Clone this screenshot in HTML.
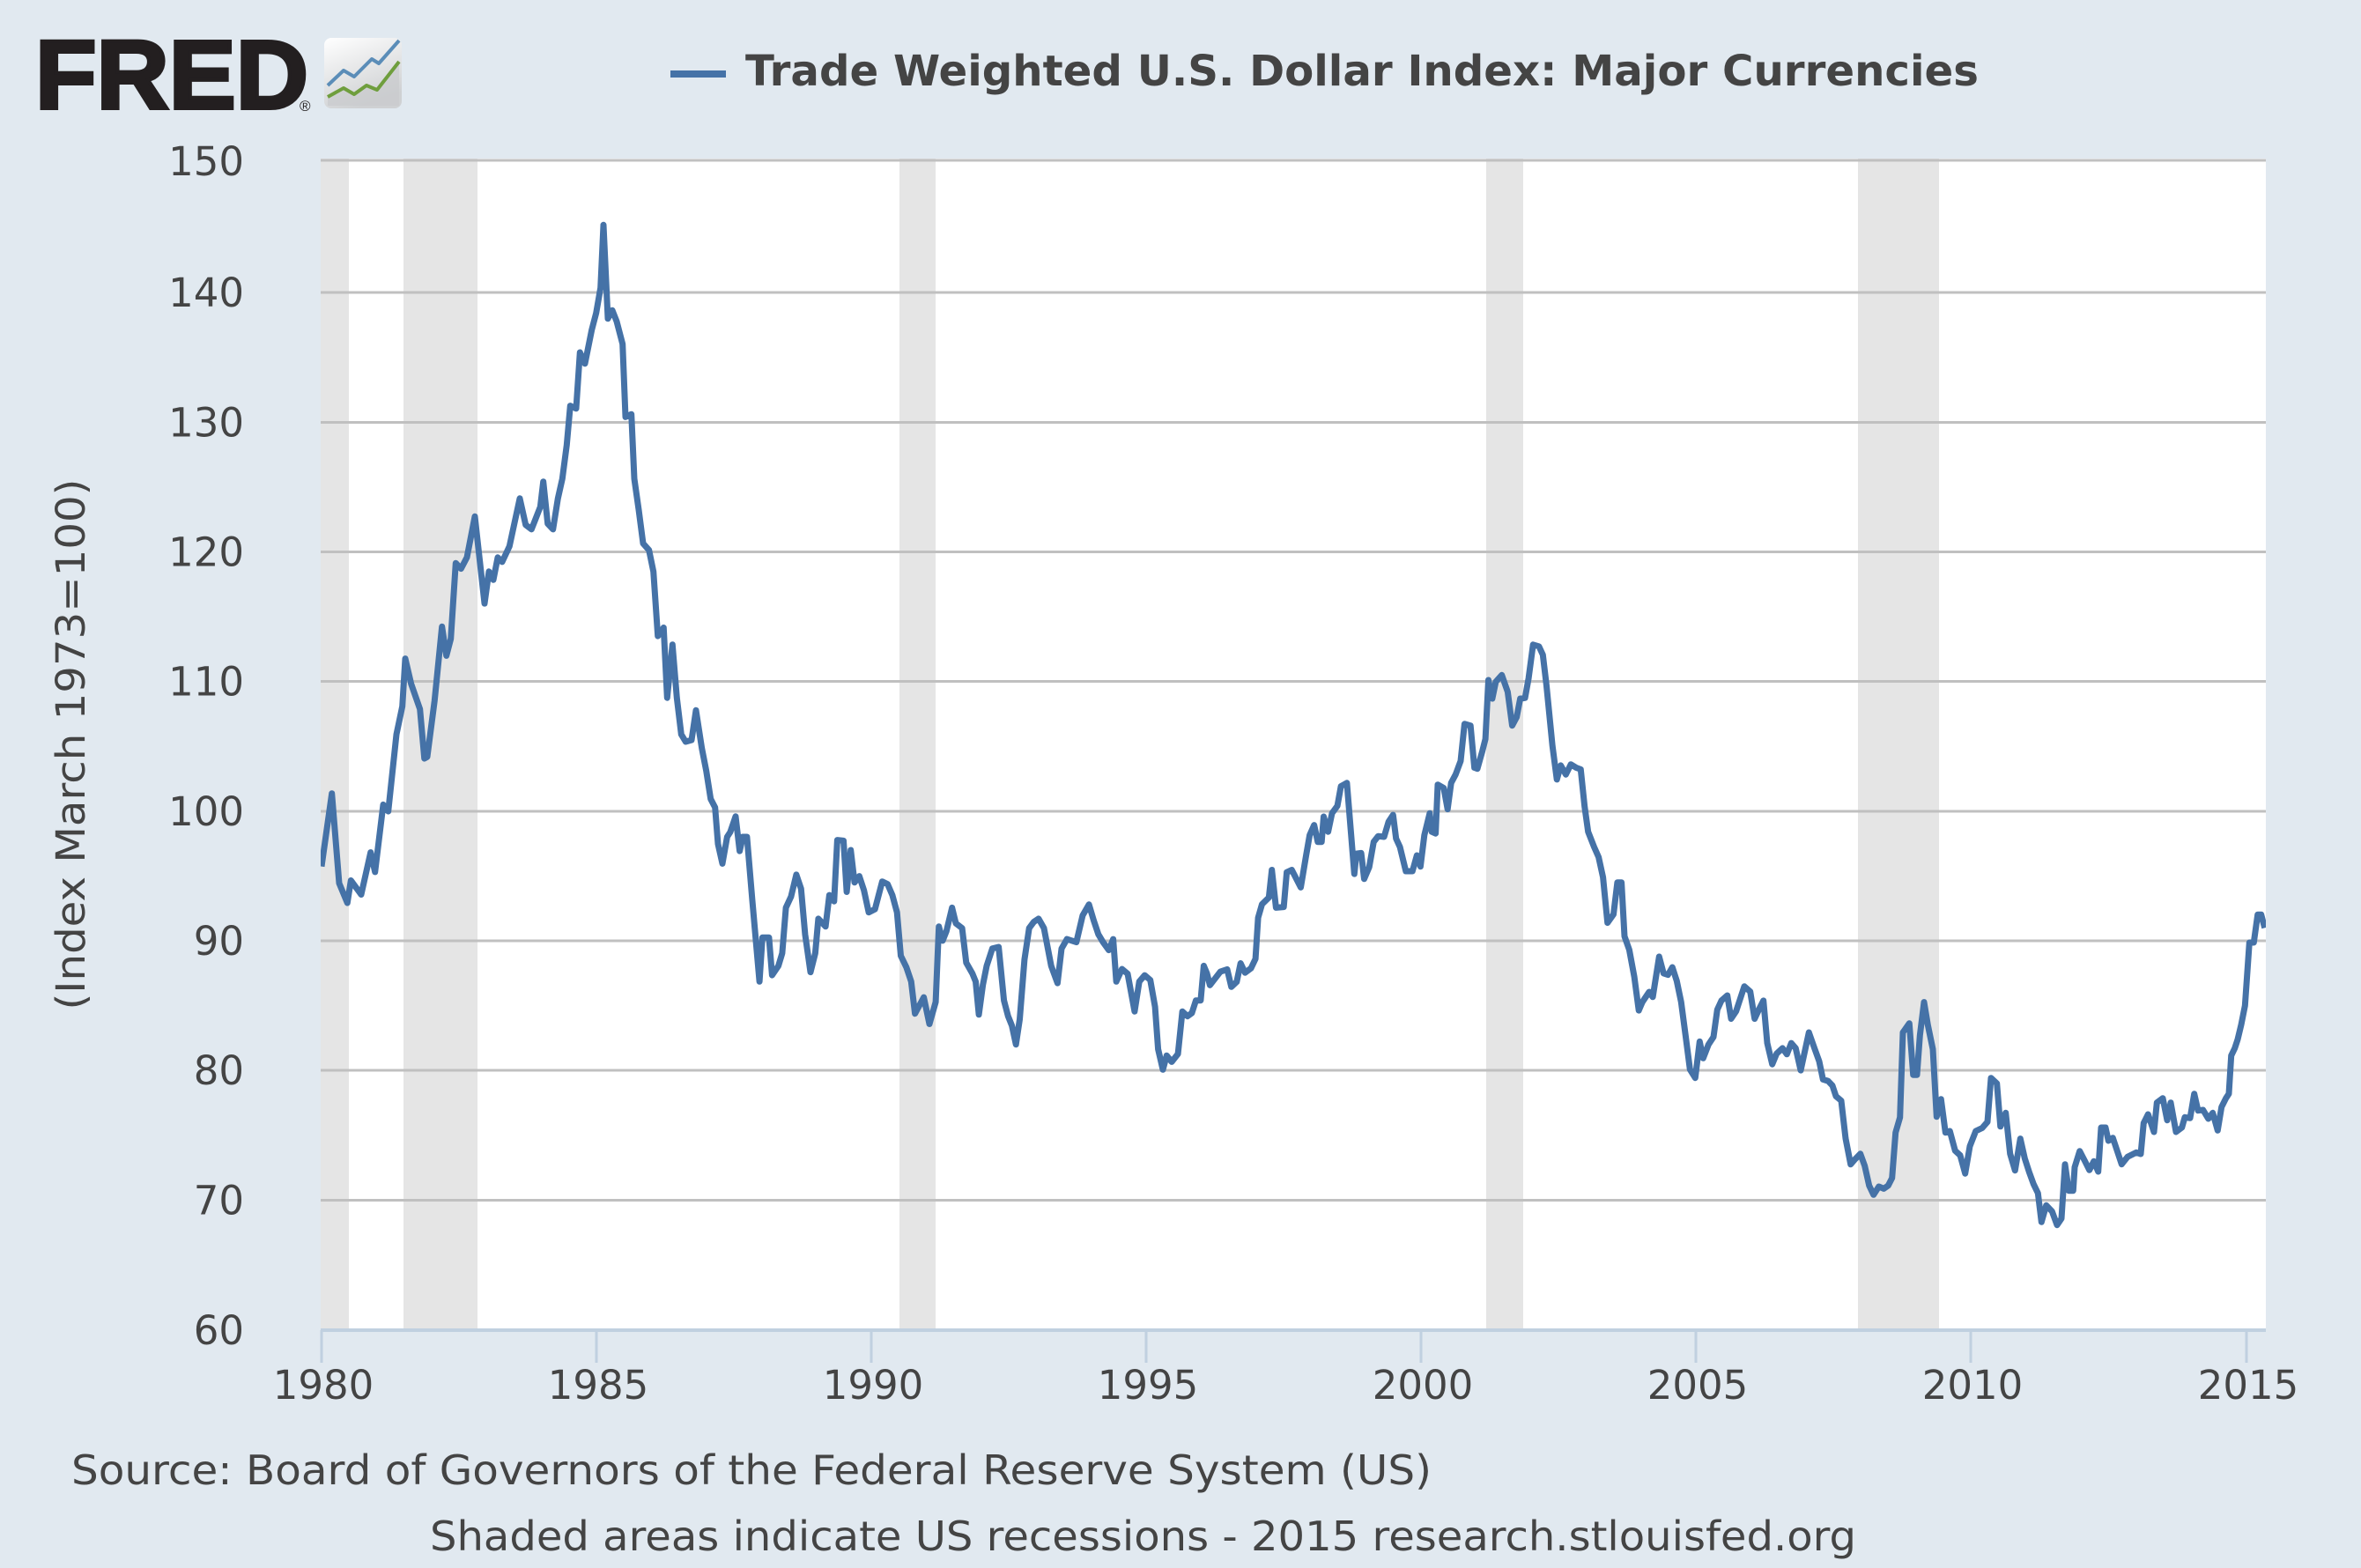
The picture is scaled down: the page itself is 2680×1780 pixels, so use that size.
<!DOCTYPE html>
<html>
<head>
<meta charset="utf-8">
<style>
  html,body{margin:0;padding:0;background:#e1e9f0;}
  body{width:2680px;height:1780px;overflow:hidden;}
  svg{display:block;}
  .tick{font-family:"DejaVu Sans","Liberation Sans",sans-serif;font-size:45px;fill:#444;}
  .foot{font-family:"DejaVu Sans","Liberation Sans",sans-serif;font-size:46px;fill:#444;}
</style>
</head>
<body>
<svg xmlns="http://www.w3.org/2000/svg" width="2680" height="1780" viewBox="0 0 2680 1780">
  <defs>
    <clipPath id="plotclip"><rect x="364" y="180" width="2208" height="1330"/></clipPath>
    <linearGradient id="icongrad" x1="0" y1="0" x2="0.4" y2="1">
      <stop offset="0" stop-color="#ffffff"/>
      <stop offset="1" stop-color="#cfd1d3"/>
    </linearGradient>
  </defs>

  <!-- background -->
  <rect x="0" y="0" width="2680" height="1780" fill="#e1e9f0"/>

  <!-- FRED logo -->
  <text x="40" y="123" font-family="Liberation Sans, Arial, sans-serif" font-weight="bold" font-size="110" fill="#231f20" stroke="#231f20" stroke-width="4" textLength="310" lengthAdjust="spacingAndGlyphs">FRED</text>
  <text x="340" y="126" font-family="Liberation Sans, sans-serif" font-size="17" fill="#231f20">®</text>
  <rect x="368" y="43" width="88" height="80" rx="8" ry="8" fill="url(#icongrad)"/>
  <polygon points="372,110 390,100 402,107 416,97 428,102 453,70 453,120 372,120" fill="#c9cbcd" opacity="0.7"/>
  <polyline points="372,97 390,80 402,87 422,67 430,72 453,46" fill="none" stroke="#5b8db8" stroke-width="4" stroke-linejoin="round"/>
  <polyline points="372,110 390,100 402,107 416,97 428,102 453,70" fill="none" stroke="#6f9e3d" stroke-width="4" stroke-linejoin="round"/>

  <!-- legend / title -->
  <rect x="761" y="80" width="63" height="8" fill="#4572a7"/>
  <text x="846" y="97" font-family="DejaVu Sans, Liberation Sans, sans-serif" font-weight="bold" font-size="48" fill="#444" textLength="1400" lengthAdjust="spacingAndGlyphs">Trade Weighted U.S. Dollar Index: Major Currencies</text>

  <!-- plot area -->
  <rect x="364" y="180" width="2208" height="1330" fill="#ffffff"/>

  <!-- recession bands -->
  <g fill="#e5e5e5">
    <rect x="364" y="180" width="32" height="1330"/>
    <rect x="458" y="180" width="84" height="1330"/>
    <rect x="1021" y="180" width="41" height="1330"/>
    <rect x="1687" y="180" width="42" height="1330"/>
    <rect x="2109" y="180" width="92" height="1330"/>
  </g>

  <!-- gridlines -->
  <g stroke="#c0c0c0" stroke-width="3">
    <line x1="364" y1="182" x2="2572" y2="182"/>
    <line x1="364" y1="332" x2="2572" y2="332"/>
    <line x1="364" y1="479.5" x2="2572" y2="479.5"/>
    <line x1="364" y1="626.5" x2="2572" y2="626.5"/>
    <line x1="364" y1="773.5" x2="2572" y2="773.5"/>
    <line x1="364" y1="921" x2="2572" y2="921"/>
    <line x1="364" y1="1068" x2="2572" y2="1068"/>
    <line x1="364" y1="1215" x2="2572" y2="1215"/>
    <line x1="364" y1="1362.5" x2="2572" y2="1362.5"/>
  </g>

  <!-- x axis line and ticks -->
  <line x1="364" y1="1510" x2="2572" y2="1510" stroke="#c0d0e0" stroke-width="4"/>
  <g stroke="#c0d0e0" stroke-width="3">
    <line x1="365" y1="1510" x2="365" y2="1547"/>
    <line x1="677" y1="1510" x2="677" y2="1547"/>
    <line x1="989" y1="1510" x2="989" y2="1547"/>
    <line x1="1301" y1="1510" x2="1301" y2="1547"/>
    <line x1="1613" y1="1510" x2="1613" y2="1547"/>
    <line x1="1925" y1="1510" x2="1925" y2="1547"/>
    <line x1="2237" y1="1510" x2="2237" y2="1547"/>
    <line x1="2550" y1="1510" x2="2550" y2="1547"/>
  </g>

  <!-- series -->
  <polyline id="series" clip-path="url(#plotclip)" fill="none" stroke="#4572a7" stroke-width="7" stroke-linejoin="round" stroke-linecap="butt" points=""/>

  <!-- y tick labels -->
  <g class="tick" text-anchor="end">
    <text x="277" y="199">150</text>
    <text x="277" y="348">140</text>
    <text x="277" y="495.5">130</text>
    <text x="277" y="642.5">120</text>
    <text x="277" y="789.5">110</text>
    <text x="277" y="937">100</text>
    <text x="277" y="1084">90</text>
    <text x="277" y="1231">80</text>
    <text x="277" y="1378.5">70</text>
    <text x="277" y="1526">60</text>
  </g>

  <!-- x tick labels -->
  <g class="tick" text-anchor="middle">
    <text x="367" y="1588">1980</text>
    <text x="679" y="1588">1985</text>
    <text x="991" y="1588">1990</text>
    <text x="1303" y="1588">1995</text>
    <text x="1615" y="1588">2000</text>
    <text x="1927" y="1588">2005</text>
    <text x="2239" y="1588">2010</text>
    <text x="2552" y="1588">2015</text>
  </g>

  <!-- y axis title -->
  <text class="tick" transform="translate(96,845) rotate(-90)" text-anchor="middle" textLength="603" lengthAdjust="spacingAndGlyphs">(Index March 1973=100)</text>

  <!-- footer -->
  <text class="foot" x="81" y="1685" textLength="1544" lengthAdjust="spacingAndGlyphs">Source: Board of Governors of the Federal Reserve System (US)</text>
  <text class="foot" x="488" y="1760" textLength="1619" lengthAdjust="spacingAndGlyphs">Shaded areas indicate US recessions - 2015 research.stlouisfed.org</text>
</svg>

<script>
(function(){
  var Z = [
    {x0:360,sx:3,y0:180,sy:1.568,p:[[15,1260],[50,1130],[75,1290],[103,1325],[115,1285],[150,1310],[182,1235],[197,1270],[225,1150],[242,1162],[270,1025],[290,975],[300,890],[320,935],[350,980],[365,1068],[375,1065],[400,965],[425,833],[440,885],[455,855],[472,720],[490,730],[510,710],[537,637],[570,792],[585,735],[600,750],[615,710],[630,718],[655,690],[690,605],[710,652],[730,660],[745,640],[760,620],[770,575],[785,650],[803,660],[820,605],[835,570],[850,510],[862,440],[882,445],[895,345],[912,365],[935,305],[950,275],[965,230],[975,118],[990,285],[1005,270],[1020,290],[1040,330],[1050,460],[1070,455],[1080,570],[1095,625],[1110,685],[1130,697],[1145,735],[1160,850],[1180,835],[1192,960],[1210,865],[1225,960],[1240,1025],[1255,1038],[1275,1035],[1290,982],[1310,1050],[1325,1090],[1340,1140],[1355,1155],[1365,1220]]},
    {x0:820,sx:2.8,y0:700,sy:2.8,p:[[0,785],[15,700],[25,685],[42,635],[55,745],[65,700],[78,700],[95,900],[118,1160],[127,1020],[148,1020],[158,1140],[178,1110],[190,1070],[202,925],[218,890],[235,820],[250,865],[263,1010],[280,1130],[295,1070],[305,960],[328,985],[340,885],[355,905],[365,710],[385,712],[395,875],[408,742],[420,845],[435,825],[450,870],[465,940],[485,930],[508,842],[525,850],[540,885],[555,940],[567,1078],[585,1115],[600,1160],[612,1262],[640,1210],[658,1295],[678,1225],[688,985],[700,1030],[712,1000],[730,925],[742,975],[762,990],[775,1100],[795,1135],[805,1160],[815,1265],[828,1170],[840,1110],[858,1055],[878,1050],[895,1220],[908,1270],[920,1300],[933,1360],[945,1280],[960,1090],[975,990],[990,970],[1005,960],[1022,990],[1045,1110],[1065,1165],[1078,1055],[1095,1025],[1125,1035],[1145,950],[1165,915],[1180,965],[1195,1010],[1210,1035],[1228,1060],[1242,1025],[1252,1160],[1270,1120],[1288,1135],[1310,1255],[1325,1160],[1342,1140],[1360,1155],[1375,1240],[1385,1375],[1400,1440],[1412,1395],[1428,1415],[1448,1390],[1462,1255],[1478,1270],[1492,1260],[1505,1220],[1520,1220],[1530,1110]]},
    {x0:1370,sx:2.958,y0:640,sy:2.613,p:[[0,1215],[10,1250],[45,1210],[68,1203],[82,1255],[100,1240],[113,1185],[128,1213],[148,1200],[163,1172],[172,1050],[185,1010],[208,990],[218,908],[232,1020],[258,1018],[268,915],[285,908],[315,960],[333,865],[345,805],[360,775],[372,825],[385,825],[392,750],[407,795],[420,740],[438,718],[450,660],[470,650],[495,920],[502,860],[518,858],[528,935],[545,900],[560,825],[575,808],[595,810],[610,765],[625,745],[635,815],[648,840],[668,912],[690,912],[705,865],[717,898],[730,805],[748,740],[755,795],[768,800],[775,655],[795,665],[808,728],[820,650],[835,625],[852,585],[865,475],[885,480],[898,605],[908,608],[925,555],[935,520],[945,345],[958,400],[970,350],[990,330],[1010,380],[1025,480],[1040,455],[1052,400],[1068,398],[1080,340],[1095,240],[1115,245],[1128,270],[1140,360],[1160,540],[1175,640],[1188,598],[1205,625],[1222,595],[1240,605],[1255,610],[1268,720],[1280,795],[1300,840],[1315,870],[1330,930],[1345,1065],[1365,1040],[1378,945],[1392,945],[1402,1105],[1418,1145],[1435,1225],[1450,1325],[1462,1300],[1485,1270],[1497,1285]]},
    {x0:1880,sx:3,y0:900,sy:2.904,p:[[10,540],[25,595],[40,600],[55,575],[70,620],[85,690],[100,800],[115,912],[133,940],[148,820],[160,875],[178,830],[195,805],[208,715],[222,685],[242,668],[255,745],[272,720],[300,638],[320,655],[335,745],[352,710],[365,685],[378,825],[395,895],[410,860],[430,842],[445,862],[460,825],[475,842],[492,915],[520,790],[540,845],[555,885],[568,945],[585,950],[600,965],[612,1000],[630,1015],[645,1140],[662,1225],[675,1210],[695,1190],[710,1230],[725,1295],[740,1325],[758,1298],[775,1305],[790,1295],[803,1270],[815,1120],[830,1070],[840,790],[862,760],[875,930],[888,930],[898,800],[912,690],[925,765],[942,845],[955,1068],[970,1010],[985,1120],[1000,1115],[1018,1180],[1035,1195],[1052,1255],[1068,1165],[1088,1115],[1110,1105],[1128,1085],[1140,940],[1160,958],[1172,1100],[1190,1055],[1205,1190],[1222,1245],[1240,1140],[1255,1205],[1270,1250],[1285,1290],[1300,1320],[1312,1415],[1328,1360],[1348,1380],[1365,1425]]},
    {x0:2340,sx:3,y0:1000,sy:3,p:[[0,1150],[12,965],[25,1055],[40,1055],[45,975],[62,920],[80,955],[95,985],[110,955],[125,990],[135,840],[150,840],[160,885],[175,875],[190,920],[205,965],[225,940],[255,925],[270,930],[280,825],[295,795],[315,855],[325,755],[345,740],[360,815],[372,755],[390,855],[410,840],[420,805],[438,808],[452,725],[465,782],[482,780],[500,810],[515,790],[532,850],[545,770],[560,740],[570,725],[578,595],[590,570],[600,540],[612,490],[625,425],[640,210],[655,210],[668,115],[680,115],[692,160]]}
  ];
  var pts = [];
  for (var i = 0; i < Z.length; i++) {
    var z = Z[i];
    for (var j = 0; j < z.p.length; j++) {
      var x = z.x0 + z.p[j][0] / z.sx;
      var y = z.y0 + z.p[j][1] / z.sy;
      pts.push(x.toFixed(1) + "," + y.toFixed(1));
    }
  }
  document.getElementById("series").setAttribute("points", pts.join(" "));
})();
</script>
</body>
</html>
